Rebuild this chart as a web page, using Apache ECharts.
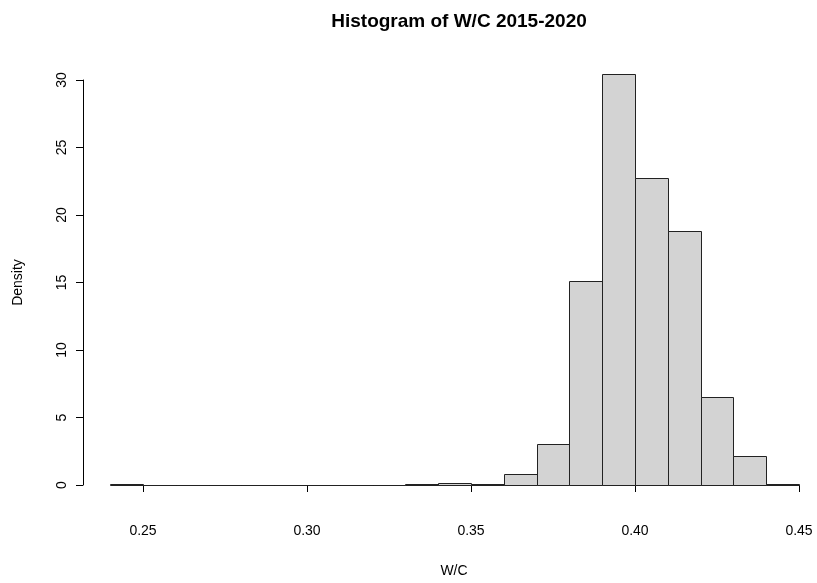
<!DOCTYPE html>
<html>
<head>
<meta charset="utf-8">
<script src="https://cdn.jsdelivr.net/npm/echarts@6/dist/echarts.min.js"></script>
<style>
  html, body { margin: 0; padding: 0; background: #fff; }
  #chart { width: 817px; height: 583px; }
</style>
</head>
<body>
<div id="chart"></div>
<script>
// Histogram of W/C ratio, bin width 0.01
const binStart = [0.24, 0.25, 0.26, 0.27, 0.28, 0.29, 0.30, 0.31, 0.32, 0.33, 0.34,
                  0.35, 0.36, 0.37, 0.38, 0.39, 0.40, 0.41, 0.42, 0.43, 0.44];
const density  = [0.07, 0, 0, 0, 0, 0, 0, 0, 0, 0.07, 0.15,
                  0.07, 0.83, 3.05, 15.1, 30.47, 22.71, 18.82, 6.53, 2.14, 0.07];
const binWidth = 0.01;
const xTicks = [0.25, 0.30, 0.35, 0.40, 0.45];
const yTicks = [0, 5, 10, 15, 20, 25, 30];

const FONT = '"Liberation Sans", Arial, sans-serif';
const ink = '#000';

const bins = binStart.map((s, i) => [s, s + binWidth, density[i]]);

const chart = echarts.init(document.getElementById('chart'), null, { renderer: 'canvas' });
chart.setOption({
  animation: false,
  backgroundColor: '#fff',
  title: {
    text: 'Histogram of W/C 2015-2020',
    left: 454,
    textAlign: 'center',
    top: 7,
    textStyle: { fontFamily: FONT, fontWeight: 'bold', fontSize: 19, color: ink }
  },
  grid: { left: 143, right: 18, top: 80, bottom: 97 },
  xAxis: {
    type: 'value',
    min: xTicks[0],
    max: xTicks[xTicks.length - 1],
    interval: 0.05,
    offset: 19,
    name: 'W/C',
    nameLocation: 'middle',
    nameGap: 60,
    nameTextStyle: { fontFamily: FONT, fontSize: 14, color: ink, padding: [0, 34, 0, 0] },
    axisLine: { show: true, lineStyle: { color: ink, width: 1 } },
    axisTick: { show: true, length: 7, lineStyle: { color: ink } },
    axisLabel: {
      fontFamily: FONT, fontSize: 14, color: ink, margin: 20,
      formatter: v => v.toFixed(2),
      showMinLabel: true, showMaxLabel: true
    },
    splitLine: { show: false }
  },
  yAxis: {
    type: 'value',
    min: yTicks[0],
    max: yTicks[yTicks.length - 1],
    interval: 5,
    offset: 60,
    name: 'Density',
    nameLocation: 'middle',
    nameGap: 58,
    nameTextStyle: { fontFamily: FONT, fontSize: 14, color: ink },
    axisLine: { show: true, lineStyle: { color: ink, width: 1 } },
    axisTick: { show: true, length: 7, lineStyle: { color: ink } },
    axisLabel: {
      fontFamily: FONT, fontSize: 14, color: ink, margin: 14, rotate: 90,
      showMinLabel: true, showMaxLabel: true
    },
    splitLine: { show: false }
  },
  series: [{
    type: 'custom',
    clip: false,
    data: bins,
    renderItem: (params, api) => {
      const p0 = api.coord([api.value(0), api.value(2)]);
      const p1 = api.coord([api.value(1), 0]);
      return {
        type: 'rect',
        shape: {
          x: Math.round(p0[0]) + 0.5,
          y: Math.round(p0[1]) + 0.5,
          width: Math.round(p1[0]) - Math.round(p0[0]),
          height: Math.round(p1[1]) - Math.round(p0[1])
        },
        style: { fill: '#d3d3d3', stroke: '#222', lineWidth: 1 }
      };
    }
  }]
});
</script>
</body>
</html>
